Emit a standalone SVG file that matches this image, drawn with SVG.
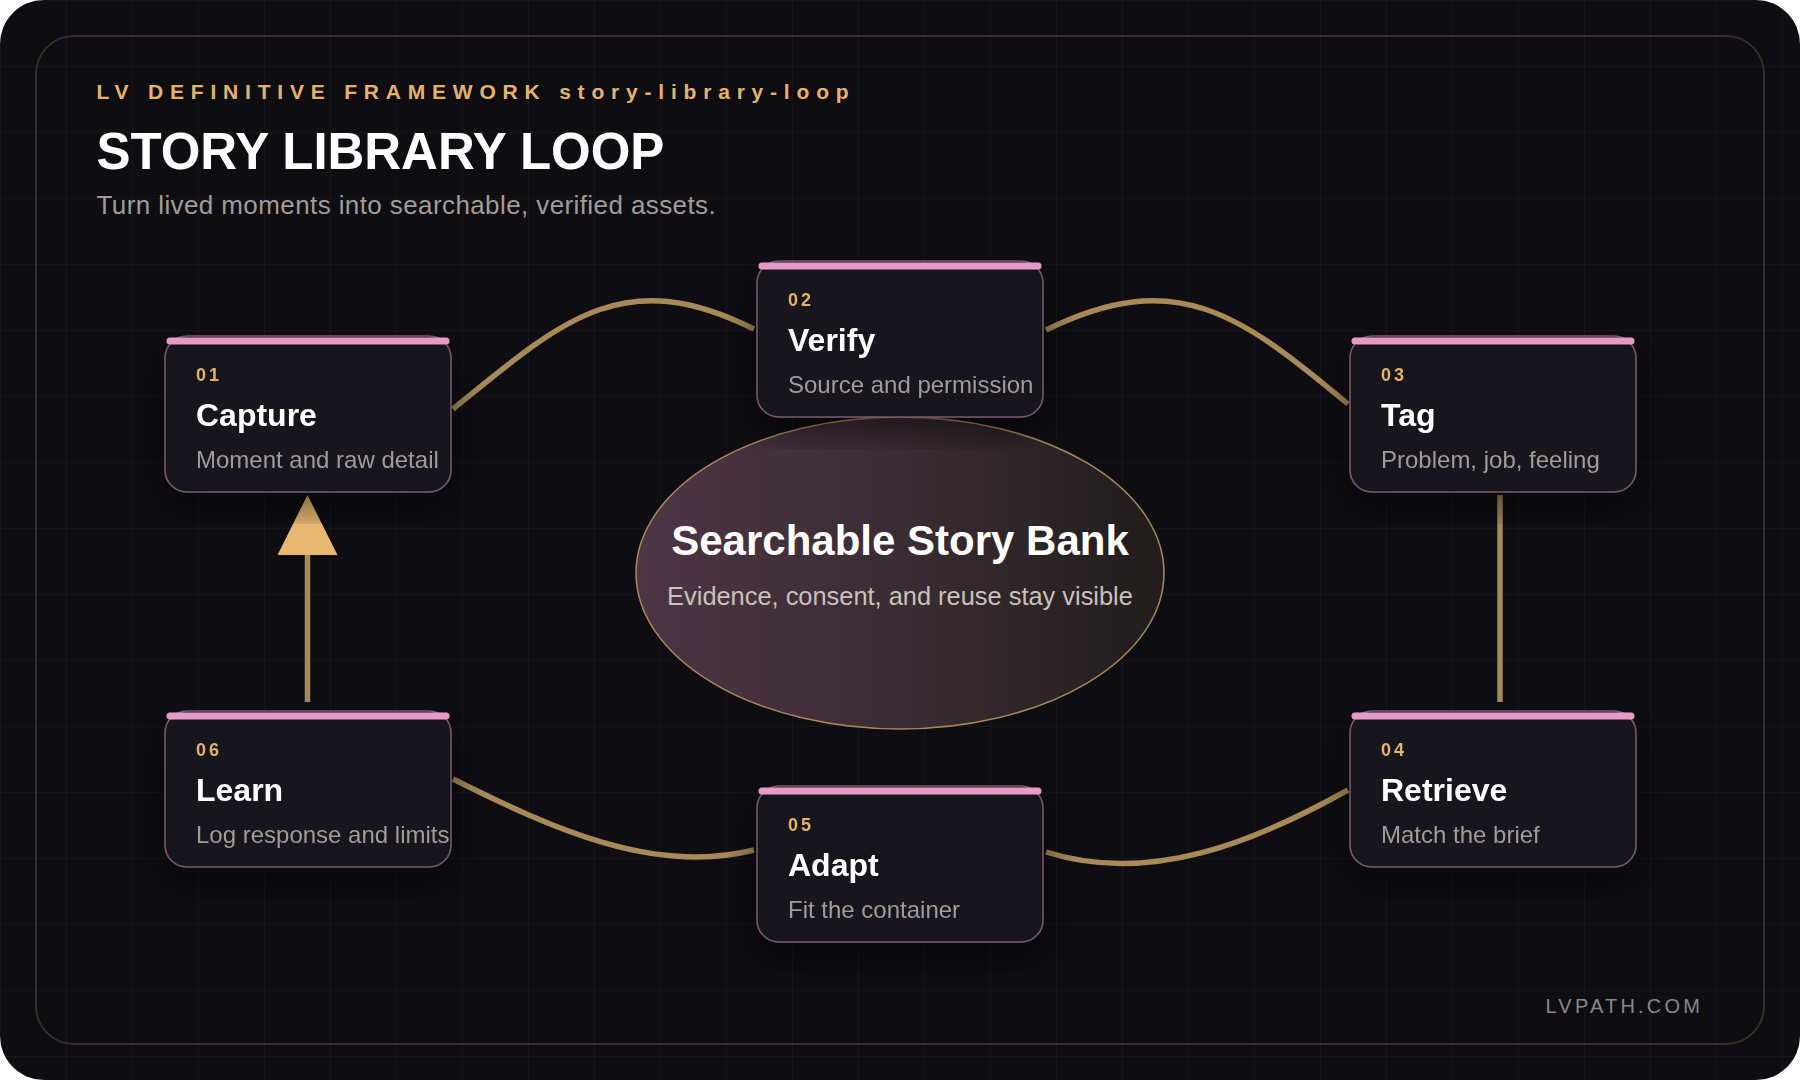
<svg xmlns="http://www.w3.org/2000/svg" width="1800" height="1080" viewBox="0 0 1800 1080">
  <defs>
    <pattern id="grid" width="66" height="66" patternUnits="userSpaceOnUse">
      <path d="M0,0.5 H66 M0.5,0 V66" fill="none" stroke="#ffffff" stroke-opacity="0.03" stroke-width="1"/>
    </pattern>
    <linearGradient id="bankFill" x1="0" y1="0" x2="1" y2="0">
      <stop offset="0" stop-color="#4d3544"/>
      <stop offset="0.5" stop-color="#3a2c33"/>
      <stop offset="1" stop-color="#201d1c"/>
    </linearGradient>
    <filter id="shadow" x="-10%" y="-10%" width="120%" height="130%">
      <feGaussianBlur in="SourceAlpha" stdDeviation="20"/>
      <feOffset dy="14" result="b"/>
      <feComponentTransfer><feFuncA type="linear" slope="0.55"/></feComponentTransfer>
      <feMerge><feMergeNode/><feMergeNode in="SourceGraphic"/></feMerge>
    </filter>
    <marker id="arrow" markerUnits="userSpaceOnUse" markerWidth="60" markerHeight="60" viewBox="0 0 60 60" refX="10" refY="30" orient="auto">
      <path d="M0,0 L60,30 L0,60 Z" fill="#e8b872"/>
    </marker>
    <style>
      .card { fill: #17161c; stroke: #7a5872; stroke-width: 1.5; }
      .bar { stroke: #e79ac6; stroke-width: 7; stroke-linecap: round; }
      .num { font-family: "Liberation Sans", Arial, sans-serif; font-weight: 700; font-size: 18px; letter-spacing: 3px; fill: #e6b468; }
      .ttl { font-family: "Liberation Sans", Arial, sans-serif; font-weight: 700; font-size: 32px; fill: #ffffff; }
      .sub { font-family: "Liberation Sans", Arial, sans-serif; font-size: 24px; fill: #a29c96; }
      .conn { fill: none; stroke: #a88a58; stroke-width: 5.5; stroke-linecap: butt; }
    </style>
  </defs>

  <rect x="0" y="0" width="1800" height="1080" rx="44" fill="#0e0e12"/>
  <rect x="0" y="0" width="1800" height="1080" rx="44" fill="url(#grid)"/>
  <rect x="36" y="36" width="1728" height="1008" rx="38" fill="none" stroke="#c9a36b" stroke-opacity="0.22" stroke-width="2"/>

  <g id="header">
    <text x="96.5" y="99" font-family="Liberation Sans, Arial, sans-serif" font-weight="700" font-size="21" letter-spacing="6.8" fill="#e6b468">LV DEFINITIVE FRAMEWORK story-library-loop</text>
    <text x="96.5" y="168.5" font-family="Liberation Sans, Arial, sans-serif" font-weight="700" font-size="51" letter-spacing="-0.05" fill="#ffffff">STORY LIBRARY LOOP</text>
    <text x="96.5" y="214" font-family="Liberation Sans, Arial, sans-serif" font-size="26" letter-spacing="0.4" fill="#a29d97">Turn lived moments into searchable, verified assets.</text>
  </g>

  <g id="connectors">
    <path class="conn" d="M453,409 C563,319 624,264 754,329"/>
    <path class="conn" d="M1046,330 C1176,266 1240,314 1348,404"/>
    <path class="conn" d="M1500,495 L1500,702"/>
    <path class="conn" d="M1348,790 C1255,842 1150,885 1046,852"/>
    <path class="conn" d="M754,850 C654,875 553,829 453,779"/>
    <path class="conn" d="M307.5,702 L307.5,545" stroke-width="6" marker-end="url(#arrow)"/>
  </g>

  <g id="story-bank">
    <ellipse cx="900" cy="573" rx="264" ry="156" fill="url(#bankFill)" stroke="#a88a58" stroke-width="1.5"/>
    <text x="900" y="555" text-anchor="middle" font-family="Liberation Sans, Arial, sans-serif" font-weight="700" font-size="42" fill="#ffffff">Searchable Story Bank</text>
    <text x="900" y="605" text-anchor="middle" font-family="Liberation Sans, Arial, sans-serif" font-size="25.4" fill="#c9c1bb">Evidence, consent, and reuse stay visible</text>
  </g>

  <g id="node-01" transform="translate(165,336)" filter="url(#shadow)">
    <rect class="card" x="0" y="0" width="286" height="156" rx="22"/>
    <line class="bar" x1="5" y1="5" x2="281" y2="5"/>
    <text class="num" x="31" y="45">01</text>
    <text class="ttl" x="31" y="90">Capture</text>
    <text class="sub" x="31" y="132">Moment and raw detail</text>
  </g>

  <g id="node-02" transform="translate(757,261)" filter="url(#shadow)">
    <rect class="card" x="0" y="0" width="286" height="156" rx="22"/>
    <line class="bar" x1="5" y1="5" x2="281" y2="5"/>
    <text class="num" x="31" y="45">02</text>
    <text class="ttl" x="31" y="90">Verify</text>
    <text class="sub" x="31" y="132">Source and permission</text>
  </g>

  <g id="node-03" transform="translate(1350,336)" filter="url(#shadow)">
    <rect class="card" x="0" y="0" width="286" height="156" rx="22"/>
    <line class="bar" x1="5" y1="5" x2="281" y2="5"/>
    <text class="num" x="31" y="45">03</text>
    <text class="ttl" x="31" y="90">Tag</text>
    <text class="sub" x="31" y="132">Problem, job, feeling</text>
  </g>

  <g id="node-04" transform="translate(1350,711)" filter="url(#shadow)">
    <rect class="card" x="0" y="0" width="286" height="156" rx="22"/>
    <line class="bar" x1="5" y1="5" x2="281" y2="5"/>
    <text class="num" x="31" y="45">04</text>
    <text class="ttl" x="31" y="90">Retrieve</text>
    <text class="sub" x="31" y="132">Match the brief</text>
  </g>

  <g id="node-05" transform="translate(757,786)" filter="url(#shadow)">
    <rect class="card" x="0" y="0" width="286" height="156" rx="22"/>
    <line class="bar" x1="5" y1="5" x2="281" y2="5"/>
    <text class="num" x="31" y="45">05</text>
    <text class="ttl" x="31" y="90">Adapt</text>
    <text class="sub" x="31" y="132">Fit the container</text>
  </g>

  <g id="node-06" transform="translate(165,711)" filter="url(#shadow)">
    <rect class="card" x="0" y="0" width="286" height="156" rx="22"/>
    <line class="bar" x1="5" y1="5" x2="281" y2="5"/>
    <text class="num" x="31" y="45">06</text>
    <text class="ttl" x="31" y="90">Learn</text>
    <text class="sub" x="31" y="132">Log response and limits</text>
  </g>

  <text id="footer" x="1545.5" y="1013" font-family="Liberation Sans, Arial, sans-serif" font-size="20" letter-spacing="3.2" fill="#8a8886">LVPATH.COM</text>
</svg>
